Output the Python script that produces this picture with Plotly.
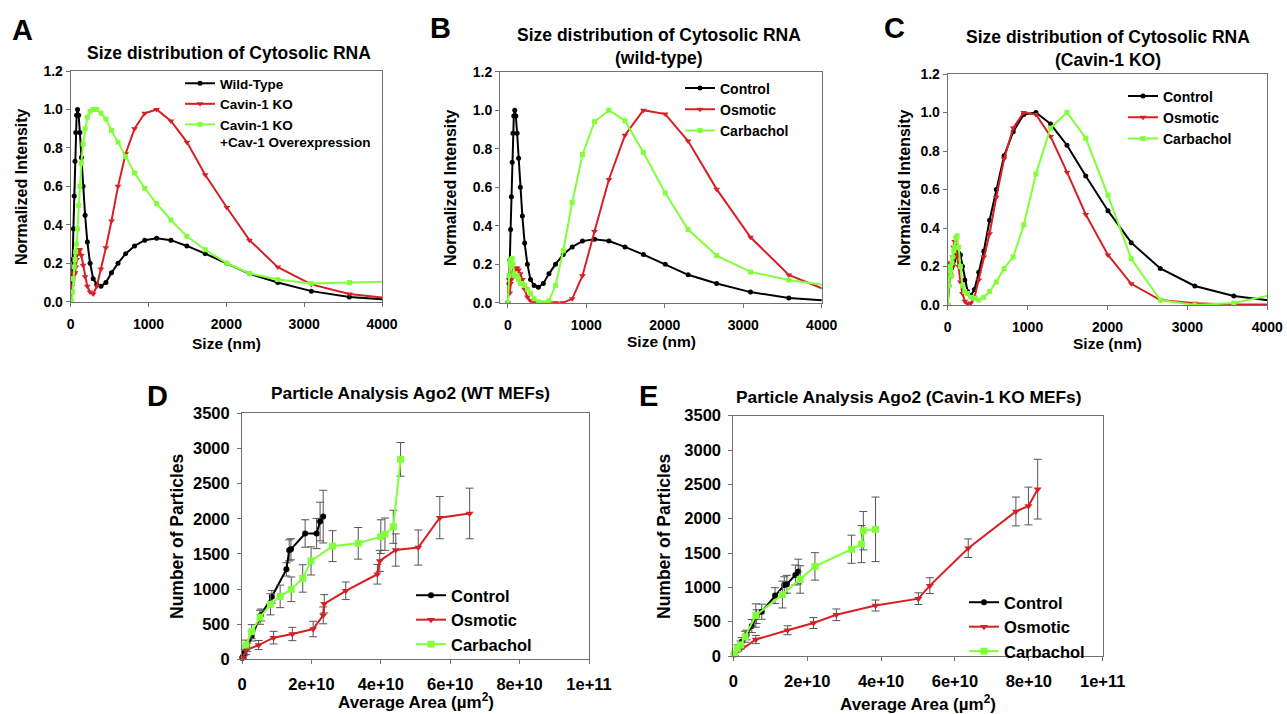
import plotly.graph_objects as go

# ---- data ---------------------------------------------------------------
# particle size bins (nm) shared by the three size-distribution panels
size_nm = [0, 15, 25, 35, 45, 55, 65, 76, 88, 102, 118, 137, 159, 185, 214, 249, 289, 335,
           389, 452, 524, 608, 706, 820, 951, 1104, 1288, 1493, 1728, 2006, 2297, 2661,
           3093, 3581, 4150]

# panel A
a_wild_type = [0.0, 0.1, 0.22, 0.38, 0.55, 0.73, 0.88, 0.97, 1.0, 0.97, 0.88, 0.75, 0.6, 0.45,
               0.31, 0.2, 0.12, 0.09, 0.08, 0.1, 0.15, 0.2, 0.25, 0.29, 0.32, 0.33, 0.32, 0.29,
               0.25, 0.2, 0.145, 0.1, 0.055, 0.025, 0.008]
a_cavin_ko = [0.0, 0.08, 0.13, 0.15, 0.14, 0.15, 0.18, 0.22, 0.25, 0.27, 0.27, 0.24, 0.19, 0.13,
              0.08, 0.05, 0.04, 0.08, 0.17, 0.28, 0.42, 0.6, 0.77, 0.9, 0.98, 1.0, 0.94, 0.83,
              0.66, 0.49, 0.32, 0.18, 0.09, 0.04, 0.015]
a_cavin_ko_cav1 = [0.0, 0.0, 0.05, 0.12, 0.18, 0.22, 0.26, 0.3, 0.38, 0.5, 0.6, 0.72, 0.82, 0.9,
                   0.96, 0.99, 1.0, 1.0, 0.98, 0.95, 0.89, 0.83, 0.755, 0.67, 0.59, 0.51, 0.425,
                   0.34, 0.27, 0.2, 0.147, 0.116, 0.095, 0.1, 0.105]

# panel B (wild-type)
b_control = a_wild_type
b_osmotic = [0.0, 0.12, 0.05, 0.1, 0.12, 0.15, 0.14, 0.16, 0.17, 0.18, 0.18, 0.17, 0.15, 0.12,
             0.07, 0.03, 0.01, 0.0, 0.0, 0.0, 0.0, 0.0, 0.0, 0.02, 0.14, 0.37, 0.64, 0.87,
             1.0, 0.98, 0.84, 0.59, 0.34, 0.144, 0.05]
b_carbachol = [0.0, 0.14, 0.21, 0.22, 0.19, 0.23, 0.2, 0.15, 0.14, 0.14, 0.14, 0.12, 0.1, 0.1,
               0.09, 0.07, 0.05, 0.02, 0.005, 0.0, 0.01, 0.09, 0.27, 0.52, 0.77, 0.94, 1.0,
               0.945, 0.78, 0.57, 0.38, 0.245, 0.16, 0.118, 0.085]

# panel C (Cavin-1 KO)
c_control = [0.0, 0.1, 0.15, 0.17, 0.19, 0.2, 0.21, 0.23, 0.25, 0.26, 0.27, 0.27, 0.26, 0.2,
             0.13, 0.07, 0.05, 0.08, 0.17, 0.28, 0.44, 0.6, 0.775, 0.9, 0.99, 1.0, 0.94, 0.83,
             0.67, 0.49, 0.324, 0.19, 0.099, 0.047, 0.018]
c_osmotic = [0.0, 0.22, 0.18, 0.2, 0.15, 0.2, 0.25, 0.3, 0.33, 0.31, 0.25, 0.2, 0.12, 0.06,
             0.02, 0.005, 0.01, 0.04, 0.13, 0.25, 0.37, 0.56, 0.76, 0.92, 1.0, 0.99, 0.875,
             0.69, 0.47, 0.26, 0.11, 0.026, 0.009, 0.003, 0.002]
c_carbachol = [0.0, 0.1, 0.2, 0.18, 0.15, 0.22, 0.25, 0.28, 0.3, 0.35, 0.36, 0.3, 0.2, 0.1,
               0.07, 0.06, 0.04, 0.035, 0.026, 0.04, 0.07, 0.12, 0.19, 0.25, 0.415, 0.68,
               0.92, 1.0, 0.866, 0.57, 0.24, 0.026, 0.0, 0.01, 0.06]

# panel D (WT MEFs): average area (um^2), number of particles, error
d_ctrl_area = [0.1e9, 0.3e9, 0.7e9, 1.5e9, 2.8e9, 5.5e9, 8.6e9, 12.8e9, 13.6e9, 14.1e9,
               18.2e9, 21.5e9, 22.5e9, 23.4e9]
d_ctrl_n = [20, 40, 90, 170, 330, 630, 890, 1280, 1550, 1565, 1790, 1790, 1960, 2030]
d_ctrl_err = [15, 25, 40, 60, 70, 85, 90, 95, 150, 150, 195, 215, 275, 375]

d_osm_area = [0.2e9, 1.2e9, 4.8e9, 9.1e9, 14.5e9, 20.5e9, 23.4e9, 23.7e9, 29.9e9, 39e9,
              39.7e9, 44.3e9, 50.8e9, 57e9, 65.6e9]
d_osm_n = [20, 130, 203, 308, 360, 431, 625, 790, 975, 1210, 1400, 1555, 1590, 2015, 2075]
d_osm_err = [10, 60, 65, 90, 95, 110, 120, 130, 125, 140, 150, 230, 250, 300, 360]

d_carb_area = [1.15e9, 2.8e9, 5.2e9, 8.2e9, 11e9, 14.2e9, 17.5e9, 19.9e9, 26.1e9, 33.5e9,
               40e9, 41.2e9, 43.6e9, 45.7e9]
d_carb_n = [203, 393, 598, 782, 895, 996, 1150, 1400, 1610, 1650, 1745, 1780, 1885, 2845]
d_carb_err = [70, 100, 100, 150, 160, 175, 195, 200, 220, 225, 240, 230, 235, 240]

# panel E (Cavin-1 KO MEFs)
e_ctrl_area = [0.35e9, 1.35e9, 2.3e9, 3.6e9, 5e9, 6.3e9, 7.7e9, 11.3e9, 13.8e9, 14.5e9,
               16.8e9, 17.6e9]
e_ctrl_n = [29, 112, 208, 306, 437, 573, 645, 880, 1034, 1045, 1180, 1230]
e_ctrl_err = [20, 40, 60, 70, 95, 100, 110, 115, 120, 130, 145, 180]

e_osm_area = [0.2e9, 6.1e9, 14.7e9, 21.7e9, 27.9e9, 38.5e9, 50.1e9, 53.2e9, 63.6e9, 76.5e9,
              79.9e9, 82.4e9]
e_osm_n = [15, 240, 375, 480, 600, 735, 835, 1025, 1570, 2105, 2185, 2430]
e_osm_err = [10, 60, 65, 80, 85, 80, 85, 115, 135, 210, 275, 435]

e_carb_area = [0.3e9, 1.1e9, 2e9, 3.2e9, 6.1e9, 13.3e9, 18.1e9, 22.1e9, 32e9, 34.7e9,
               35.2e9, 38.5e9]
e_carb_n = [30, 112, 160, 280, 590, 895, 1115, 1305, 1555, 1630, 1825, 1845]
e_carb_err = [30, 50, 60, 80, 170, 195, 200, 200, 205, 270, 280, 470]

area_tickvals = [0, 2e10, 4e10, 6e10, 8e10, 1e11]
area_ticktext = ["0", "2e+10", "4e+10", "6e+10", "8e+10", "1e+11"]

# ---- styling -----------------------------------------------------------------
W, H = 1287, 714
FONT = "Liberation Sans"
BLACK, RED, GREEN = "#000000", "#d62024", "#80ff3a"
FRAME = "#707070"


def px_x(v):
    return v / W


def px_y(v):
    return 1 - v / H


def bold(size):
    return dict(family=FONT, size=size, color="black", weight="bold")


fig = go.Figure()


def add_curve(x, y, name, color, symbol, msize, axis, legend):
    fig.add_trace(go.Scatter(
        x=x, y=y, name=name, mode="lines+markers",
        line=dict(color=color, width=2),
        marker=dict(color=color, symbol=symbol, size=msize, line=dict(width=0)),
        xaxis="x" + axis, yaxis="y" + axis, legend=legend,
    ))


def add_err(x, y, err, name, color, symbol, msize, axis, legend):
    fig.add_trace(go.Scatter(
        x=x, y=y, name=name, mode="lines+markers",
        line=dict(color=color, width=2),
        marker=dict(color=color, symbol=symbol, size=msize, line=dict(width=0)),
        error_y=dict(type="data", array=err, color="#555555", thickness=1, width=4),
        cliponaxis=False,
        xaxis="x" + axis, yaxis="y" + axis, legend=legend,
    ))


add_curve(size_nm, a_wild_type, "Wild-Type", BLACK, "circle", 5, "", "legend")
add_curve(size_nm, a_cavin_ko, "Cavin-1 KO", RED, "triangle-down", 6, "", "legend")
add_curve(size_nm, a_cavin_ko_cav1, "Cavin-1 KO<br>+Cav-1 Overexpression", GREEN, "square", 5,
          "", "legend")

add_curve(size_nm, b_control, "Control", BLACK, "circle", 5, "2", "legend2")
add_curve(size_nm, b_osmotic, "Osmotic", RED, "triangle-down", 6, "2", "legend2")
add_curve(size_nm, b_carbachol, "Carbachol", GREEN, "square", 5, "2", "legend2")

add_curve(size_nm, c_control, "Control", BLACK, "circle", 5, "3", "legend3")
add_curve(size_nm, c_osmotic, "Osmotic", RED, "triangle-down", 6, "3", "legend3")
add_curve(size_nm, c_carbachol, "Carbachol", GREEN, "square", 5, "3", "legend3")

add_err(d_ctrl_area, d_ctrl_n, d_ctrl_err, "Control", BLACK, "circle", 6, "4", "legend4")
add_err(d_osm_area, d_osm_n, d_osm_err, "Osmotic", RED, "triangle-down", 7, "4", "legend4")
add_err(d_carb_area, d_carb_n, d_carb_err, "Carbachol", GREEN, "square", 7, "4", "legend4")

add_err(e_ctrl_area, e_ctrl_n, e_ctrl_err, "Control", BLACK, "circle", 6, "5", "legend5")
add_err(e_osm_area, e_osm_n, e_osm_err, "Osmotic", RED, "triangle-down", 7, "5", "legend5")
add_err(e_carb_area, e_carb_n, e_carb_err, "Carbachol", GREEN, "square", 7, "5", "legend5")

# plot areas in pixels: (left, right, top, bottom)
boxes = {
    "": (70.7, 382, 71, 301.7),
    "2": (500, 821.7, 71.7, 302.7),
    "3": (947.7, 1267.3, 74, 305),
    "4": (242, 589, 413.3, 659.3),
    "5": (733.3, 1102.7, 415.7, 656),
}

axis_common = dict(showline=True, mirror=True, linecolor=FRAME, linewidth=1,
                   ticks="outside", ticklen=4, tickcolor=FRAME, showgrid=False,
                   zeroline=False, automargin=False)

layout = dict(width=W, height=H, margin=dict(l=0, r=0, t=0, b=0, autoexpand=False),
              paper_bgcolor="white", plot_bgcolor="white",
              font=dict(family=FONT, weight="bold", color="black"))

for key, (l, r, t, b) in boxes.items():
    xa = dict(axis_common, domain=[px_x(l), px_x(r)], anchor="y" + key)
    ya = dict(axis_common, domain=[px_y(b), px_y(t)], anchor="x" + key)
    if key in ("", "2", "3"):
        xa.update(range=[-100 if key == "2" else 0, 4000], dtick=1000, tick0=0,
                  tickfont=bold(14), ticklabelstandoff=5)
        ya.update(range=[0, 1.2], dtick=0.2, tickformat=".1f", tickfont=bold(14))
    else:
        xa.update(range=[0, 1e11], tickvals=area_tickvals, ticktext=area_ticktext,
                  tickfont=bold(16.5), ticklabelstandoff=6)
        ya.update(range=[0, 3500], dtick=500, tickfont=bold(16.5), ticklabelstandoff=4)
    layout["xaxis" + key] = xa
    layout["yaxis" + key] = ya


def legend_at(left, top, size):
    return dict(x=px_x(left), y=px_y(top), xanchor="left", yanchor="top",
                bgcolor="rgba(0,0,0,0)", borderwidth=0, font=bold(size),
                tracegroupgap=0, itemwidth=30, valign="top")


layout["legend"] = legend_at(180, 68, 13.5)
layout["legend2"] = legend_at(680, 72.5, 14)
layout["legend3"] = legend_at(1123, 80.5, 14)
layout["legend4"] = legend_at(411, 578, 16.5)
layout["legend5"] = legend_at(964, 585, 16.5)

texts = [
    # (text, x px, y px, size, angle)
    ("A", 22, 30, 29, 0),
    ("B", 440, 28, 29, 0),
    ("C", 895, 28, 29, 0),
    ("D", 157, 396, 29, 0),
    ("E", 648, 396, 29, 0),
    ("Size distribution of Cytosolic RNA", 228.8, 53, 17.5, 0),
    ("Size distribution of Cytosolic RNA", 658.7, 35, 17.5, 0),
    ("(wild-type)", 658.7, 58, 17.5, 0),
    ("Size distribution of Cytosolic RNA", 1108.3, 37, 17.5, 0),
    ("(Cavin-1 KO)", 1108.3, 60, 17.5, 0),
    ("Particle Analysis Ago2 (WT MEFs)", 410.8, 393, 17.3, 0),
    ("Particle Analysis Ago2 (Cavin-1 KO MEFs)", 909, 397, 17.3, 0),
    ("Size (nm)", 226.5, 343, 15.5, 0),
    ("Size (nm)", 661, 341, 15.5, 0),
    ("Size (nm)", 1107, 343, 15.5, 0),
    ("Average Area (\u00b5m<sup>2</sup>)", 415.8, 701, 17, 0),
    ("Average Area (\u00b5m<sup>2</sup>)", 918, 703, 17, 0),
    ("Normalized Intensity", 22, 187, 16, -90),
    ("Normalized Intensity", 451, 187, 16, -90),
    ("Normalized Intensity", 905, 188, 16, -90),
    ("Number of Particles", 177, 536, 17.5, -90),
    ("Number of Particles", 664, 536, 17.5, -90),
]
layout["annotations"] = [
    dict(text=t, x=px_x(x), y=px_y(y), xref="paper", yref="paper", showarrow=False,
         xanchor="center", yanchor="middle", textangle=ang, font=bold(s))
    for t, x, y, s, ang in texts
]

fig.update_layout(**layout)
# the page body has a default 8px margin; drop it so the figure fills the window
fig.write_html("out.html", config={"displayModeBar": False},
               post_script="document.body.style.margin='0px';")
